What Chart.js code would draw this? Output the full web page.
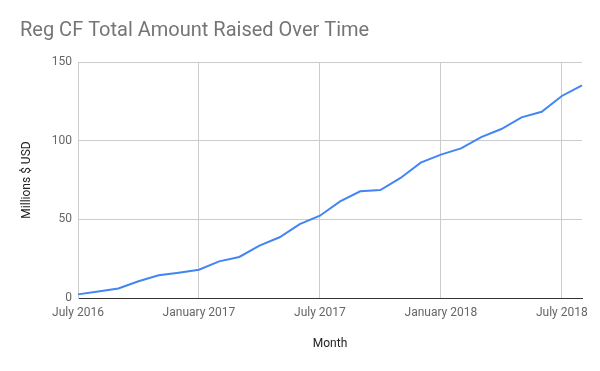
<!DOCTYPE html>
<html>
<head>
<meta charset="utf-8">
<script src="https://cdn.jsdelivr.net/npm/chart.js@4"></script>
<style>
html,body{margin:0;padding:0;background:#fff;}
#c{display:block;}
</style>
</head>
<body>
<canvas id="c" width="600" height="371"></canvas>
<script>
const months = [
  'July 2016','August 2016','September 2016','October 2016','November 2016','December 2016',
  'January 2017','February 2017','March 2017','April 2017','May 2017','June 2017',
  'July 2017','August 2017','September 2017','October 2017','November 2017','December 2017',
  'January 2018','February 2018','March 2018','April 2018','May 2018','June 2018',
  'July 2018','August 2018'
];
const amountRaised = [
  2.3, 4.2, 6.1, 10.6, 14.4, 16.1,
  18.0, 23.3, 26.1, 33.3, 38.6, 47.0,
  52.3, 61.4, 67.8, 68.6, 76.3, 86.0,
  91.1, 95.1, 102.3, 107.4, 114.8, 118.4,
  128.4, 135.2
];
const xTickLabels = ['July 2016','January 2017','July 2017','January 2018','July 2018'];
const yTicks = [0, 50, 100, 150];

const FONT = 'Roboto, "Noto Sans", Arial, sans-serif';

new Chart(document.getElementById('c'), {
  type: 'line',
  data: {
    labels: months,
    datasets: [{
      label: 'Total Amount Raised',
      data: amountRaised,
      borderColor: '#4285F4',
      backgroundColor: '#4285F4',
      borderWidth: 2,
      pointRadius: 0,
      tension: 0,
      fill: false
    }]
  },
  options: {
    responsive: false,
    animation: false,
    devicePixelRatio: 1,
    layout: { padding: { left: 20, right: 18, top: 0, bottom: 0 } },
    plugins: {
      legend: { display: false },
      tooltip: { enabled: false },
      title: {
        display: true,
        text: 'Reg CF Total Amount Raised Over Time',
        align: 'start',
        color: '#757575',
        font: { family: FONT, size: 20, weight: 'normal', lineHeight: 1.2 },
        padding: { top: 19, bottom: 19 }
      }
    },
    scales: {
      x: {
        type: 'category',
        offset: false,
        afterFit: s => { s.height = 73; },
        border: { display: true, color: '#333333', width: 1 },
        grid: {
          drawTicks: false,
          color: ctx => xTickLabels.includes(months[ctx.index]) ? '#cccccc' : 'rgba(0,0,0,0)',
          lineWidth: 1
        },
        ticks: {
          autoSkip: false,
          maxRotation: 0,
          minRotation: 0,
          padding: 8,
          color: '#666666',
          font: { family: FONT, size: 12 },
          callback: (v, i) => xTickLabels.includes(months[i]) ? months[i] : ''
        },
        title: {
          display: true,
          text: 'Month',
          color: '#222222',
          font: { family: FONT, size: 12 },
          padding: { top: 0, bottom: 20 }
        }
      },
      y: {
        min: 0,
        max: 150,
        afterFit: s => { s.width = 58; },
        afterBuildTicks: s => { s.ticks = yTicks.map(v => ({ value: v })); },
        border: { display: true, color: '#cccccc', width: 1 },
        grid: {
          drawTicks: false,
          color: ctx => (ctx.tick && ctx.tick.value === 0) ? '#333333' : '#cccccc',
          lineWidth: 1
        },
        ticks: {
          padding: 6,
          color: '#666666',
          font: { family: FONT, size: 12 }
        },
        title: {
          display: true,
          text: 'Millions $ USD',
          color: '#222222',
          font: { family: FONT, size: 12 },
          padding: { top: 0, bottom: 0 }
        }
      }
    }
  }
});
</script>
</body>
</html>
